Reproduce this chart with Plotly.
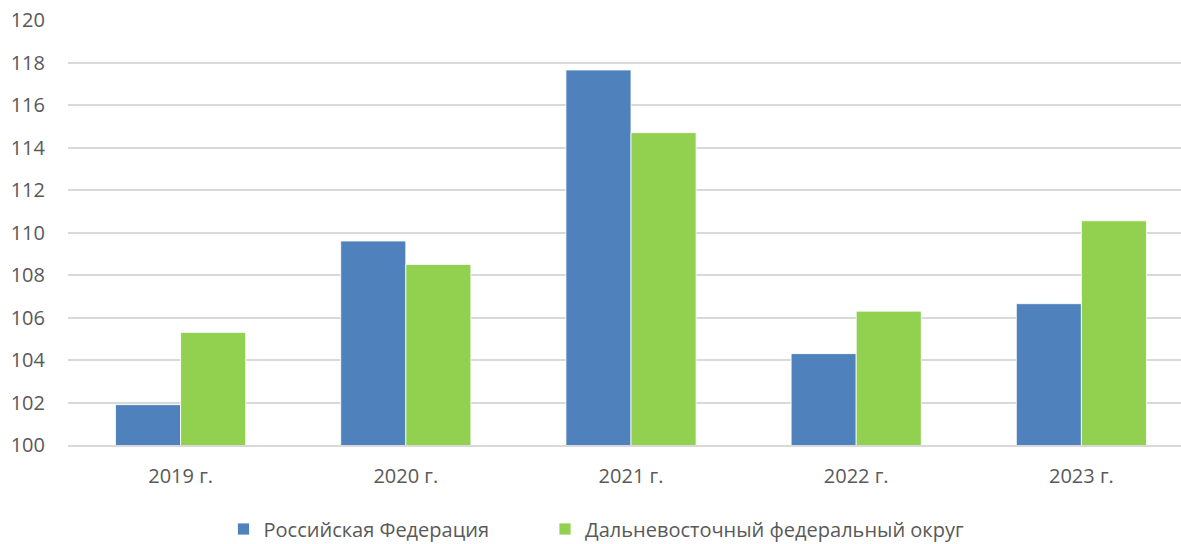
import plotly.graph_objects as go

categories = ["2019 г.", "2020 г.", "2021 г.", "2022 г.", "2023 г."]
rf_values = [101.9, 109.6, 117.65, 104.3, 106.65]
dfo_values = [105.3, 108.5, 114.7, 106.3, 110.55]
series_names = ["Российская Федерация", "Дальневосточный федеральный округ"]
y_ticks = [100, 102, 104, 106, 108, 110, 112, 114, 116, 118, 120]

font_family = "Open Sans, Liberation Sans, DejaVu Sans, sans-serif"
text_color = "#595959"

fig = go.Figure()
fig.add_trace(go.Bar(x=categories, y=rf_values, name=series_names[0], legend="legend",
                     marker=dict(color="#4F81BD", line=dict(color="#ffffff", width=0.8))))
fig.add_trace(go.Bar(x=categories, y=dfo_values, name=series_names[1], legend="legend2",
                     marker=dict(color="#92D050", line=dict(color="#ffffff", width=0.8))))

fig_w = 1194
plot_w = fig_w - 68
leg_y = -(529 - 445) / 425
fig.update_layout(
    width=fig_w, height=544,
    margin=dict(l=68, r=0, t=20, b=99, autoexpand=False),
    paper_bgcolor="white", plot_bgcolor="white",
    barmode="group", bargap=0.422, bargroupgap=0,
    font=dict(family=font_family, size=20, color=text_color),
    legend=dict(orientation="h", x=(223.5 - 68) / plot_w, xanchor="left", yref="paper",
                y=leg_y, yanchor="middle", font=dict(size=20, color=text_color),
                itemwidth=30, bgcolor="rgba(0,0,0,0)"),
    legend2=dict(orientation="h", x=(545 - 68) / plot_w, xanchor="left", yref="paper",
                 y=leg_y, yanchor="middle", font=dict(size=20, color=text_color),
                 itemwidth=30, bgcolor="rgba(0,0,0,0)"),
    showlegend=True,
)
fig.update_yaxes(range=[100, 120], tickvals=y_ticks, showgrid=True,
                 gridcolor="#d9d9d9", gridwidth=1.5, zeroline=False, automargin=False,
                 showline=False, ticklabelstandoff=22, tickfont=dict(size=20))
fig.update_xaxes(showgrid=False, showline=True, linecolor="#d9d9d9", linewidth=1.5,
                 automargin=False, ticks="", ticklabelstandoff=12, tickfont=dict(size=20))

fig.write_html("out.html", config={"displayModeBar": False},
               post_script="document.body.style.margin='0px';document.body.style.overflow='hidden';")
